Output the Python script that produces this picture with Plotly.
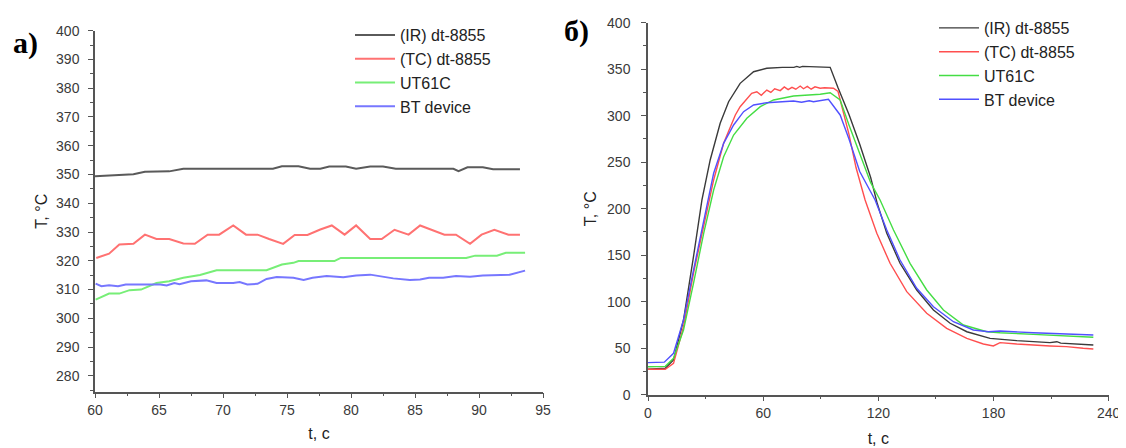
import plotly.graph_objects as go

# page is drawn with an 8px body margin, so the figure is sized/positioned to compensate
OFF = 8
W, H = 1126 - OFF, 448 - OFF

# ---------------- Panel a) data (zoomed plateau) ----------------
a_ir_t = [60, 63, 63.9, 65.8, 66.9, 73.9, 74.6, 75.9, 76.8, 77.6, 78.3, 79.6, 80.4, 81.5, 82.5, 83.5, 88.0, 88.4, 89.1, 90.3, 91.1, 93.2]
a_ir_T = [349.4, 350.1, 351, 351.1, 352, 352, 352.9, 352.9, 352, 352, 352.8, 352.8, 352, 352.8, 352.8, 352, 352, 351.2, 352.5, 352.5, 351.8, 351.8]

a_tc_t = [60.1, 61.1, 61.9, 63, 63.9, 64.8, 65.8, 66.9, 67.8, 68.8, 69.7, 70.8, 71.8, 72.7, 73.6, 74.7, 75.6, 76.6, 77.6, 78.5, 79.5, 80.4, 81.5, 82.4, 83.4, 84.5, 85.4, 86.4, 87.3, 88.2, 89.3, 90.2, 91.2, 92.3, 93.2]
a_tc_T = [321.0, 322.5, 325.7, 325.9, 329.1, 327.6, 327.6, 326.0, 325.9, 329.1, 329.1, 332.3, 329.1, 329.1, 327.6, 325.9, 329.0, 329.0, 330.9, 332.3, 329.1, 332.3, 327.6, 327.6, 330.8, 329.1, 332.3, 330.5, 329.1, 329.1, 325.9, 329.1, 330.8, 329.1, 329.1]

a_ut_t = [60.05, 61.1, 61.9, 62.7, 63.6, 64.8, 65.8, 66.9, 68.2, 69.5, 73.4, 74.6, 75.5, 75.9, 78.7, 79.2, 89.0, 89.7, 91.4, 92.1, 93.6]
a_ut_T = [306.5, 308.6, 308.6, 309.8, 310.0, 312.3, 312.9, 314.1, 315.1, 316.7, 316.7, 318.7, 319.3, 319.9, 319.9, 321.0, 321.0, 321.8, 321.8, 322.8, 322.8]

a_bt_t = [60.05, 60.5, 61.1, 61.8, 62.4, 64.0, 65.1, 65.6, 66.2, 66.6, 67.5, 68.7, 69.5, 70.8, 71.3, 71.9, 72.7, 73.4, 74.2, 75.5, 76.3, 77.0, 78.1, 79.4, 80.4, 81.5, 82.2, 83.3, 84.6, 85.4, 86.1, 87.2, 88.2, 89.3, 90.3, 91.4, 92.4, 93.6]
a_bt_T = [312.1, 311.2, 311.5, 311.2, 311.8, 311.8, 311.8, 311.4, 312.3, 311.9, 312.9, 313.2, 312.3, 312.3, 312.6, 311.8, 312.0, 313.7, 314.4, 314.1, 313.3, 314.1, 314.7, 314.3, 314.9, 315.2, 314.7, 313.9, 313.3, 313.5, 314.1, 314.1, 314.7, 314.5, 314.9, 315.1, 315.2, 316.6]

# ---------------- Panel б) data (full cycle) ----------------
b_ir_t = [0, 9.0, 13.3, 18.5, 23.7, 28.1, 32.4, 37.6, 42.0, 48.0, 55.0, 61.9, 70, 76, 77.5, 79, 80.5, 88, 94.9, 99.0, 104.7, 110.3, 116.0, 119.4, 124.4, 131.3, 140.0, 148.7, 157.4, 166.1, 178.2, 192.1, 209.4, 213, 215, 232.0]
b_ir_T = [27.5, 28.4, 37.3, 80.3, 148.4, 209.4, 252.4, 291.8, 315.0, 334.8, 347.3, 351.0, 352.0, 352.0, 353.0, 352.0, 353.0, 352.3, 352.0, 330.0, 301.4, 269.2, 233.5, 205.8, 173.5, 141.3, 112.6, 91.1, 76.8, 67.7, 60.6, 58.1, 56.0, 57.0, 55.5, 53.4]

b_tc_t = [0, 9.0, 13.3, 18.5, 23.7, 29.0, 34.2, 39.4, 43.7, 45.5, 48.0, 51.5, 54, 56.7, 59, 61.9, 64, 66, 68.9, 71, 73, 75, 77, 79.3, 81, 83, 85, 87, 89.7, 92, 96.6, 99.0, 104.7, 108.4, 113.1, 119.2, 126.1, 134.8, 145.2, 155.6, 166.1, 174.7, 179.9, 183.4, 192.1, 209.4, 218.0, 226.7, 232.0]
b_tc_T = [27.3, 27.4, 33.7, 73.1, 130.5, 180.6, 230.9, 270.3, 291.8, 300.8, 309.7, 318.7, 324, 325.8, 322, 327.6, 325, 329, 327, 331, 328, 330.5, 328.5, 331.9, 329, 331.5, 328.5, 331, 329.5, 330, 329.5, 326.0, 280.0, 244.0, 209.4, 173.5, 141.3, 110.8, 87.5, 71.4, 60.6, 54.5, 52.4, 56.0, 54.5, 52.4, 51.7, 49.9, 49.2]

b_ut_t = [0, 9.0, 13.3, 18.5, 23.7, 29.0, 34.2, 39.4, 44.6, 51.5, 58.5, 65.4, 75.8, 89.7, 94.9, 100.1, 104.7, 110.3, 116.0, 120.9, 127.9, 136.5, 145.2, 153.9, 164.3, 176.5, 183.4, 200.7, 218.1, 232.0]
b_ut_T = [30.0, 30.5, 39.1, 69.6, 119.8, 173.5, 220.1, 255.9, 279.2, 297.2, 309.7, 316.9, 321.2, 323.0, 324.7, 316.9, 290.0, 259.0, 228.0, 209.4, 177.1, 141.3, 112.6, 91.1, 74.9, 67.7, 66.6, 64.9, 63.1, 61.7]

b_bt_t = [0, 8.5, 13.3, 18.5, 23.7, 29.0, 34.2, 39.4, 44.6, 49.8, 55.0, 61.9, 75.8, 80, 84, 86.2, 94.0, 100.1, 104.7, 110.3, 118.3, 124.4, 131.3, 140.0, 148.7, 159.1, 169.5, 177.4, 183.4, 200.7, 218.1, 232.0]
b_bt_T = [34.5, 35.0, 44.5, 80.3, 134.0, 187.8, 238.1, 270.3, 290.0, 304.3, 311.5, 314.0, 315.8, 314.5, 316, 315.0, 317.6, 300.8, 275.0, 240.0, 209.4, 177.1, 144.8, 114.4, 94.6, 78.5, 69.6, 67.7, 68.5, 66.6, 64.9, 64.2]

names = ["(IR) dt-8855", "(TC) dt-8855", "UT61C", "BT device"]
colors_a = ["#5a5a5a", "#ff7272", "#77ee77", "#7777ff"]
colors_b = ["#3a3a3a", "#ff4f4f", "#44dd44", "#5050ff"]


def px_x(p):  # reference pixel -> paper fraction
    return (p - OFF) / W


def px_y(p):
    return 1 - (p - OFF) / H


fig = go.Figure()

series_a = [(a_ir_t, a_ir_T), (a_tc_t, a_tc_T), (a_ut_t, a_ut_T), (a_bt_t, a_bt_T)]
series_b = [(b_ir_t, b_ir_T), (b_tc_t, b_tc_T), (b_ut_t, b_ut_T), (b_bt_t, b_bt_T)]

for (x, y), n, c in zip(series_a, names, colors_a):
    fig.add_trace(go.Scatter(x=x, y=y, name=n, mode="lines", line=dict(color=c, width=2),
                             xaxis="x", yaxis="y", legend="legend"))
for (x, y), n, c in zip(series_b, names, colors_b):
    fig.add_trace(go.Scatter(x=x, y=y, name=n, mode="lines", line=dict(color=c, width=1.4),
                             xaxis="x2", yaxis="y2", legend="legend2"))

FONT = "Liberation Sans, Arial, sans-serif"
axis_common = dict(showline=True, linecolor="#555555", linewidth=1.5, ticks="outside",
                   ticklen=5, tickwidth=1.3, tickcolor="#555555", showgrid=False, zeroline=False,
                   tickfont=dict(family=FONT, size=14, color="#3a3a3a"), automargin=False,
                   title_font=dict(family=FONT, size=16, color="#222222"))
minor_style = dict(ticks="outside", ticklen=3, tickcolor="#555555")

fig.update_layout(
    width=W, height=H,
    margin=dict(l=0, r=0, t=0, b=0),
    paper_bgcolor="white", plot_bgcolor="white",
    font=dict(family=FONT, size=14, color="#222222"),
    xaxis=dict(domain=[px_x(95), px_x(543)], range=[60, 95], dtick=5, tick0=60,
               minor=dict(dtick=2.5, **minor_style),
               title=dict(text="t, c", standoff=11), anchor="y", **axis_common),
    yaxis=dict(domain=[px_y(391.7), px_y(30.7)], range=[274.5, 400], dtick=10, tick0=280,
               minor=dict(dtick=5, **minor_style), ticklabelstandoff=6,
               title=dict(text="T, °C", standoff=4), anchor="x", **axis_common),
    xaxis2=dict(domain=[px_x(648), px_x(1108.7)], range=[0, 240], dtick=60, tick0=0,
                minor=dict(dtick=30, **minor_style),
                title=dict(text="t, c", standoff=13), anchor="y2", **axis_common),
    yaxis2=dict(domain=[px_y(394.7), px_y(22.7)], range=[0, 400], dtick=50, tick0=0,
                minor=dict(dtick=25, **minor_style), ticklabelstandoff=8,
                title=dict(text="T, °C", standoff=6), anchor="x2", **axis_common),
    legend=dict(x=px_x(350), y=px_y(18), xanchor="left", yanchor="top", bgcolor="rgba(0,0,0,0)",
                font=dict(family=FONT, size=16, color="#222222"), itemwidth=40,
                tracegroupgap=0),
    legend2=dict(x=px_x(934), y=px_y(11), xanchor="left", yanchor="top", bgcolor="rgba(0,0,0,0)",
                 font=dict(family=FONT, size=16, color="#222222"), itemwidth=40,
                 tracegroupgap=0),
    annotations=[
        dict(text="<b>a)</b>", x=px_x(25), y=px_y(43), xref="paper", yref="paper",
             xanchor="center", yanchor="middle", showarrow=False,
             font=dict(family="Liberation Serif, Times New Roman, serif", size=30, color="black")),
        dict(text="<b>б)</b>", x=px_x(577), y=px_y(31), xref="paper", yref="paper",
             xanchor="center", yanchor="middle", showarrow=False,
             font=dict(family="Liberation Serif, Times New Roman, serif", size=30, color="black")),
    ],
)

fig.write_html("out.html")
